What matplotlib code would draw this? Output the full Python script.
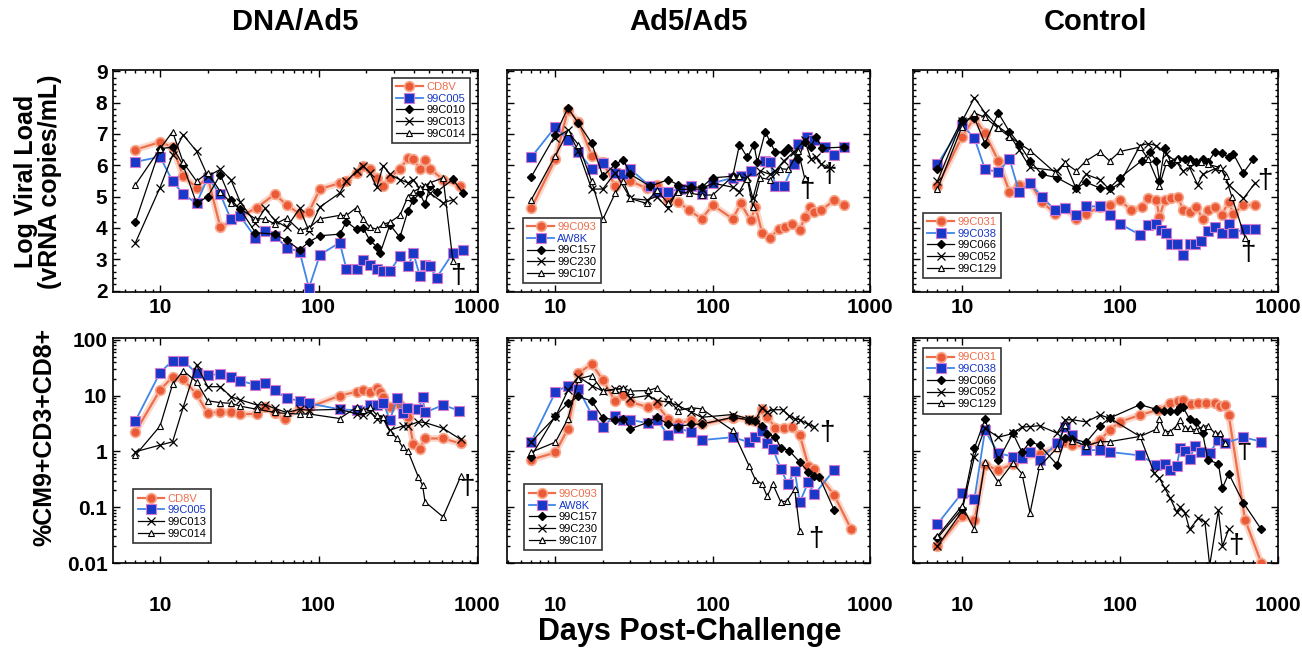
import matplotlib
matplotlib.use("Agg")
import matplotlib.pyplot as plt
from matplotlib.ticker import LogLocator, MultipleLocator, NullFormatter

plt.rcParams['font.family'] = ['Liberation Sans', 'DejaVu Sans']

# ---------------- data: top row (log viral load) ----------------
# DNA/Ad5
dv_cd8v_d = [7, 10, 12, 14, 17, 20, 24, 41, 53, 63, 76, 87, 102, 136, 150, 174, 191, 211, 233, 256, 282, 326, 367, 397, 436, 470, 505, 611, 780]
dv_cd8v_v = [6.5, 6.74, 6.58, 5.65, 5.29, 5.62, 4.02, 4.65, 5.08, 4.73, 4.45, 4.51, 5.24, 5.43, 5.49, 5.76, 5.98, 5.87, 5.60, 5.35, 5.60, 5.89, 6.22, 6.20, 5.89, 6.17, 5.89, 5.54, 5.33]
dv_005_d = [7, 10, 12, 14, 17, 20, 24, 28, 32, 40, 46, 53, 63, 76, 87, 102, 136, 150, 174, 191, 211, 233, 256, 282, 326, 367, 397, 436, 470, 505, 556, 705, 818]
dv_005_v = [6.11, 6.27, 5.49, 5.08, 4.78, 5.60, 5.08, 4.27, 4.38, 3.69, 3.91, 3.75, 3.37, 3.24, 2.08, 3.14, 3.53, 2.69, 2.69, 2.98, 2.82, 2.69, 2.63, 2.61, 3.09, 2.77, 3.20, 2.45, 2.82, 2.77, 2.41, 3.20, 3.31]
dv_010_d = [7, 10, 12, 14, 17, 20, 24, 28, 32, 40, 53, 63, 76, 87, 102, 136, 150, 174, 191, 211, 233, 245, 282, 326, 367, 397, 436, 470, 505, 556, 705, 818]
dv_010_v = [4.2, 6.53, 6.58, 6.0, 4.78, 5.0, 5.7, 4.9, 4.6, 3.85, 3.8, 3.6, 3.3, 3.55, 3.75, 3.8, 4.2, 3.95, 4.0, 3.6, 3.4, 3.2, 4.1, 3.7, 4.55, 4.9, 5.1, 4.75, 5.35, 5.15, 5.55, 5.1]
dv_013_d = [7, 10, 12, 14, 17, 20, 24, 28, 32, 40, 46, 53, 63, 76, 87, 102, 136, 150, 174, 191, 211, 233, 256, 282, 326, 367, 397, 436, 470, 505, 611, 705]
dv_013_v = [3.53, 5.29, 6.32, 6.97, 6.45, 5.65, 5.87, 5.54, 4.84, 4.15, 4.62, 4.24, 4.02, 4.62, 3.91, 4.67, 5.11, 5.49, 5.82, 5.98, 5.76, 5.30, 5.99, 5.71, 5.54, 5.44, 5.54, 5.24, 5.33, 5.11, 4.80, 4.90]
dv_014_d = [7, 10, 12, 14, 17, 20, 24, 28, 40, 46, 53, 63, 76, 87, 102, 136, 150, 174, 191, 211, 233, 256, 282, 326, 367, 397, 436, 470, 505, 611, 705]
dv_014_v = [5.38, 6.53, 7.07, 6.09, 5.49, 5.76, 5.16, 4.80, 4.29, 4.29, 4.12, 4.31, 3.92, 4.0, 4.29, 4.40, 4.40, 4.65, 4.29, 4.02, 3.96, 4.12, 4.18, 4.40, 5.0, 5.16, 5.27, 5.33, 5.44, 5.60, 2.93]

# Ad5/Ad5
av_093_d = [7, 10, 12, 14, 17, 20, 24, 27, 30, 38, 44, 52, 60, 71, 85, 100, 134, 151, 174, 187, 206, 232, 262, 289, 318, 358, 384, 413, 443, 489, 593, 685]
av_093_v = [4.62, 6.2, 7.78, 7.38, 6.31, 6.12, 5.33, 5.6, 5.49, 5.27, 5.38, 4.89, 4.84, 4.56, 4.29, 4.73, 4.29, 4.78, 4.24, 4.67, 3.85, 3.69, 3.96, 4.02, 4.13, 3.93, 4.34, 4.67, 4.51, 4.56, 4.89, 4.73]
av_aw8k_d = [7, 10, 12, 14, 17, 20, 24, 27, 30, 40, 44, 52, 62, 73, 85, 100, 134, 151, 174, 216, 232, 250, 283, 327, 350, 396, 443, 515, 593, 685]
av_aw8k_v = [6.25, 7.23, 6.8, 6.42, 5.89, 6.07, 5.76, 5.71, 5.87, 5.33, 5.16, 5.16, 5.24, 5.33, 5.09, 5.43, 5.6, 5.65, 5.82, 6.13, 6.09, 5.35, 5.33, 6.03, 6.69, 6.91, 6.8, 6.58, 6.33, 6.58]
av_157_d = [7, 10, 12, 14, 17, 20, 24, 27, 30, 40, 52, 60, 73, 85, 100, 134, 148, 166, 183, 192, 216, 232, 250, 283, 303, 350, 384, 421, 452, 498, 685]
av_157_v = [5.62, 6.98, 7.83, 7.34, 6.71, 5.65, 6.03, 6.18, 5.71, 5.33, 5.54, 5.38, 5.3, 5.3, 5.6, 5.65, 6.66, 6.25, 6.66, 6.09, 7.07, 6.74, 6.42, 6.42, 6.55, 6.2, 6.74, 6.58, 6.91, 6.55, 6.58]
av_230_d = [10, 12, 14, 17, 20, 24, 30, 38, 44, 52, 60, 71, 85, 100, 134, 148, 166, 180, 201, 232, 250, 283, 327, 384, 421, 452, 489, 560]
av_230_v = [6.87, 7.12, 6.44, 5.24, 5.24, 5.76, 4.94, 4.89, 5.0, 4.62, 5.22, 5.24, 5.24, 5.43, 5.3, 5.16, 5.63, 4.94, 5.82, 5.71, 5.82, 6.14, 6.42, 6.8, 6.2, 6.25, 6.04, 5.9]
av_107_d = [7, 10, 12, 14, 17, 20, 24, 27, 30, 38, 44, 52, 60, 71, 85, 100, 134, 148, 166, 180, 201, 232, 268, 303, 350, 384]
av_107_v = [4.89, 6.31, 7.07, 6.66, 5.49, 4.27, 5.11, 5.49, 4.94, 4.78, 5.22, 4.78, 5.16, 5.11, 5.05, 5.05, 5.65, 5.65, 5.57, 4.67, 5.6, 5.54, 5.89, 5.87, 6.44, 5.6]

# Control
cv_031_d = [7, 10, 12, 14, 17, 20, 23, 27, 32, 39, 45, 53, 61, 75, 86, 100, 118, 137, 151, 170, 178, 192, 212, 233, 251, 276, 304, 334, 360, 398, 440, 488, 523, 605, 716]
cv_031_v = [5.33, 6.91, 7.51, 7.02, 6.14, 5.16, 5.38, 5.43, 4.84, 4.45, 4.62, 4.29, 4.45, 4.67, 4.73, 4.89, 4.56, 4.67, 4.94, 4.89, 4.34, 4.89, 4.94, 5.0, 4.56, 4.51, 4.67, 4.29, 4.56, 4.67, 4.4, 4.84, 4.45, 4.73, 4.73]
cv_038_d = [7, 10, 12, 14, 17, 20, 23, 27, 32, 39, 45, 53, 61, 75, 86, 100, 134, 151, 170, 183, 197, 212, 229, 251, 276, 298, 327, 360, 398, 445, 488, 523, 620, 716]
cv_038_v = [6.03, 7.29, 6.87, 5.87, 5.79, 6.2, 5.16, 5.43, 5.0, 4.56, 4.62, 4.4, 4.69, 4.69, 4.4, 4.13, 3.78, 4.1, 4.13, 3.93, 3.85, 3.47, 3.47, 3.12, 3.47, 3.47, 3.58, 3.91, 4.02, 3.85, 4.13, 3.85, 3.96, 3.96]
cv_066_d = [7, 10, 12, 14, 17, 20, 23, 27, 32, 40, 53, 61, 75, 86, 100, 137, 155, 170, 178, 192, 212, 233, 257, 276, 304, 334, 360, 398, 440, 488, 523, 605, 700]
cv_066_v = [5.89, 7.45, 7.51, 6.69, 7.67, 7.07, 6.69, 6.14, 5.71, 5.6, 5.27, 5.46, 5.27, 5.27, 5.6, 6.14, 6.42, 6.14, 5.49, 6.55, 6.03, 6.2, 6.2, 6.2, 6.09, 6.2, 6.09, 6.42, 6.4, 6.25, 6.36, 5.76, 6.2]
cv_052_d = [7, 10, 12, 14, 17, 20, 23, 27, 40, 45, 53, 61, 75, 86, 100, 134, 151, 170, 197, 229, 251, 276, 310, 334, 398, 440, 488, 605, 716]
cv_052_v = [5.49, 7.4, 8.16, 7.67, 7.23, 6.98, 6.5, 5.93, 5.82, 6.09, 5.24, 5.71, 5.54, 5.22, 5.43, 6.63, 6.69, 6.63, 6.36, 6.09, 5.82, 5.93, 5.38, 5.71, 5.89, 5.87, 5.38, 4.94, 5.43]
cv_129_d = [7, 10, 12, 14, 17, 20, 27, 39, 45, 53, 61, 75, 86, 100, 134, 151, 178, 197, 229, 276, 327, 360, 430, 467, 510, 620]
cv_129_v = [5.24, 7.23, 7.67, 7.53, 7.18, 6.91, 6.47, 5.76, 6.07, 5.82, 6.14, 6.42, 6.14, 6.44, 6.58, 6.2, 5.35, 6.09, 6.2, 6.09, 6.09, 6.03, 5.93, 5.65, 5.0, 3.69]

# ---------------- data: bottom row (% CM9+ CD3+ CD8+) ----------------
dt_cd8v_d = [7, 10, 12, 14, 17, 20, 24, 28, 32, 41, 46, 53, 61, 76, 87, 136, 174, 191, 211, 233, 245, 256, 282, 326, 367, 397, 436, 470, 611, 790]
dt_cd8v_v = [2.25, 12.6, 21.9, 19.6, 10.7, 4.8, 5.2, 5.0, 4.7, 4.7, 6.2, 4.8, 3.76, 6.2, 6.2, 10, 11.8, 12.6, 11.8, 13.6, 11.8, 9.3, 6.3, 6.8, 4.2, 1.36, 1.13, 1.71, 1.71, 1.39]
dt_005_d = [7, 10, 12, 14, 17, 20, 24, 28, 32, 40, 46, 53, 63, 76, 87, 136, 174, 211, 233, 256, 282, 314, 340, 362, 426, 453, 470, 611, 770]
dt_005_v = [3.56, 25.9, 42.6, 42.6, 25.2, 23.5, 24.3, 21.9, 18.6, 15.6, 17.2, 12.6, 9.0, 8.1, 7.3, 5.7, 5.5, 6.8, 6.8, 7.5, 3.66, 9.0, 4.8, 5.9, 5.7, 9.3, 5.0, 6.8, 5.4]
dt_013_d = [7, 10, 12, 14, 17, 20, 24, 28, 32, 41, 46, 53, 63, 76, 87, 136, 174, 191, 211, 233, 256, 282, 340, 367, 426, 470, 611, 790]
dt_013_v = [0.99, 1.3, 1.49, 6.2, 35.6, 14.5, 14.5, 9.6, 8.4, 6.8, 6.9, 5.9, 5.0, 5.7, 5.5, 5.7, 4.7, 4.5, 5.2, 3.9, 3.76, 2.42, 2.85, 2.9, 3.4, 3.3, 2.6, 1.64]
dt_014_d = [7, 10, 12, 14, 17, 20, 24, 28, 32, 41, 53, 63, 76, 87, 136, 174, 191, 211, 233, 256, 282, 314, 340, 367, 426, 453, 470, 611, 790]
dt_014_v = [0.86, 2.85, 16, 28, 17.8, 8.1, 7.5, 7.3, 6.5, 5.7, 5.0, 4.8, 4.7, 4.7, 3.9, 6.2, 5.5, 6.2, 4.5, 4.2, 2.25, 1.71, 1.18, 1.01, 0.35, 0.25, 0.125, 0.067, 0.36]

at_093_d = [7, 10, 12, 14, 17, 20, 24, 27, 30, 39, 44, 52, 60, 73, 85, 134, 170, 187, 206, 222, 250, 283, 318, 358, 405, 443, 593, 760]
at_093_v = [0.71, 0.96, 2.55, 25.3, 37, 19.2, 8.0, 10.5, 7.7, 6.2, 7.0, 3.85, 3.2, 3.6, 3.05, 4.0, 3.7, 3.5, 5.8, 4.2, 2.66, 2.66, 2.7, 1.94, 0.56, 0.49, 0.163, 0.04]
at_aw8k_d = [7, 10, 12, 14, 17, 20, 24, 27, 30, 39, 44, 52, 60, 73, 85, 134, 170, 187, 206, 222, 241, 271, 300, 332, 358, 405, 443, 593]
at_aw8k_v = [1.47, 11.6, 15.2, 13.2, 4.6, 2.8, 4.4, 3.6, 3.7, 3.2, 3.7, 2.0, 2.66, 2.2, 1.6, 1.8, 1.47, 1.8, 2.3, 1.41, 1.12, 0.49, 0.26, 0.44, 0.124, 0.28, 0.17, 0.47]
at_157_d = [7, 10, 12, 14, 17, 20, 24, 27, 30, 39, 44, 52, 60, 73, 85, 134, 170, 187, 206, 222, 250, 271, 306, 358, 405, 443, 476, 593]
at_157_v = [0.81, 4.4, 7.3, 9.7, 8.0, 4.0, 3.7, 3.85, 2.55, 3.35, 4.1, 3.1, 2.8, 3.05, 3.1, 4.1, 3.7, 3.5, 2.9, 2.07, 1.8, 1.16, 1.04, 0.64, 0.43, 0.37, 0.35, 0.088]
at_230_d = [7, 10, 12, 14, 17, 20, 24, 27, 30, 39, 44, 52, 60, 73, 85, 134, 170, 187, 206, 222, 241, 278, 306, 332, 358, 405, 443]
at_230_v = [1.47, 4.2, 12.4, 22, 15.2, 12.1, 13.2, 13.2, 9.1, 10.1, 8.2, 7.7, 6.7, 5.1, 4.1, 4.6, 3.85, 3.7, 6.1, 5.1, 5.6, 5.6, 4.4, 3.85, 3.7, 3.05, 2.8]
at_107_d = [7, 10, 12, 14, 17, 20, 24, 27, 30, 39, 44, 52, 60, 73, 85, 134, 170, 187, 206, 222, 241, 271, 297, 332, 358]
at_107_v = [0.97, 1.47, 3.85, 20, 23, 12.1, 12.8, 13.8, 12.1, 12.4, 13.8, 9.1, 5.4, 6.1, 5.8, 2.38, 0.56, 0.31, 0.26, 0.156, 0.26, 0.124, 0.13, 0.21, 0.038]

ct_031_d = [7, 10, 12, 14, 17, 21, 24, 31, 40, 45, 50, 61, 75, 86, 100, 134, 175, 208, 233, 251, 282, 314, 350, 398, 428, 460, 488, 619, 785]
ct_031_v = [0.02, 0.069, 0.058, 0.58, 0.46, 0.6, 0.75, 0.9, 1.2, 1.5, 1.3, 1.2, 1.6, 2.44, 3.4, 4.5, 5.6, 7.3, 8.2, 8.4, 7.0, 7.5, 7.5, 7.3, 6.6, 6.9, 4.6, 0.06, 0.01]
ct_038_d = [7, 10, 12, 14, 17, 21, 24, 27, 31, 40, 45, 50, 61, 75, 86, 134, 170, 192, 208, 229, 240, 258, 276, 298, 327, 370, 420, 460, 603, 785]
ct_038_v = [0.05, 0.18, 0.14, 2.38, 0.93, 0.81, 0.76, 0.98, 0.7, 1.41, 2.73, 2.0, 1.07, 1.05, 0.98, 0.85, 0.58, 0.6, 0.47, 0.54, 1.15, 1.0, 0.72, 1.24, 0.98, 0.95, 1.6, 1.4, 1.8, 1.5]
ct_066_d = [7, 10, 12, 14, 17, 21, 24, 27, 31, 40, 45, 50, 61, 75, 86, 134, 170, 190, 208, 229, 240, 251, 276, 304, 334, 360, 420, 445, 488, 605, 785]
ct_066_v = [0.028, 0.093, 1.15, 3.8, 0.69, 2.13, 0.97, 1.5, 1.3, 0.58, 1.73, 1.7, 1.45, 2.9, 3.96, 6.9, 5.7, 5.4, 5.4, 5.4, 6.3, 6.2, 3.8, 3.4, 2.13, 0.71, 0.6, 0.22, 0.4, 0.12, 0.04]
ct_052_d = [7, 10, 12, 14, 17, 21, 24, 27, 31, 40, 45, 50, 61, 75, 86, 134, 165, 178, 192, 208, 229, 240, 258, 276, 314, 345, 370, 420, 445, 488]
ct_052_v = [0.02, 0.084, 0.81, 2.6, 1.8, 2.1, 2.73, 2.8, 2.9, 2.13, 3.7, 3.7, 3.4, 4.5, 3.96, 1.86, 0.41, 0.33, 0.22, 0.146, 0.081, 0.1, 0.08, 0.04, 0.064, 0.055, 0.009, 0.088, 0.02, 0.04]
ct_129_d = [7, 10, 12, 14, 17, 21, 24, 27, 31, 40, 45, 50, 61, 75, 86, 134, 170, 178, 192, 208, 229, 240, 258, 276, 304, 334, 360, 398, 428, 460]
ct_129_v = [0.03, 0.106, 0.04, 0.66, 0.28, 0.62, 0.4, 0.079, 0.54, 1.15, 3.0, 1.57, 1.26, 1.5, 1.5, 1.86, 2.5, 3.8, 2.28, 2.28, 2.9, 3.6, 2.6, 2.6, 2.4, 2.8, 2.9, 2.13, 2.13, 1.41]

# dagger (death) markers: (day, value)
dv_dagger = [(760, 2.45)]
av_dagger = [(395, 5.2), (545, 5.7)]
cv_dagger = [(830, 5.5), (650, 3.2)]
dt_dagger = [(860, 0.23)]
at_dagger = [(530, 2.1), (455, 0.027)]
ct_dagger = [(605, 1.0), (545, 0.02)]

col_titles = ["DNA/Ad5", "Ad5/Ad5", "Control"]

RED = '#ef6f4c'
BLUE = '#1838c8'


def draw(ax, d, v, kind, label):
    if kind == 'red':
        ax.plot(d, v, color='#f9b9a3', lw=5, alpha=0.55, solid_capstyle='round', zorder=2)
        h, = ax.plot(d, v, color=RED, lw=1.6, marker='o', ms=7, mfc='#ea5a36',
                     mec='#f7a88e', mew=1.2, label=label, zorder=3)
    elif kind == 'blue':
        h, = ax.plot(d, v, color='#3f86e8', lw=1.3, marker='s', ms=6.5, mfc=BLUE,
                     mec='#d67ad0', mew=0.8, label=label, zorder=4)
    elif kind == 'dia':
        h, = ax.plot(d, v, color='k', lw=0.9, marker='D', ms=3.8, mfc='k', mec='k', label=label, zorder=5)
    elif kind == 'x':
        h, = ax.plot(d, v, color='k', lw=0.9, marker='x', ms=6, mew=0.9, label=label, zorder=5)
    else:
        h, = ax.plot(d, v, color='k', lw=0.9, marker='^', ms=5, mfc='white', mec='k',
                     mew=0.8, label=label, zorder=5)
    return h


panels = [
    dict(pos=[0.0868, 0.552, 0.2803, 0.341], xlim=(5.05, 1014), row=0,
         series=[(dv_cd8v_d, dv_cd8v_v, 'red', 'CD8V'), (dv_005_d, dv_005_v, 'blue', '99C005'),
                 (dv_010_d, dv_010_v, 'dia', '99C010'), (dv_013_d, dv_013_v, 'x', '99C013'),
                 (dv_014_d, dv_014_v, 'tri', '99C014')],
         dagger=dv_dagger, leg=('upper right', (0.977, 0.965))),
    dict(pos=[0.3894, 0.552, 0.2788, 0.341], xlim=(4.92, 944), row=0,
         series=[(av_093_d, av_093_v, 'red', '99C093'), (av_aw8k_d, av_aw8k_v, 'blue', 'AW8K'),
                 (av_157_d, av_157_v, 'dia', '99C157'), (av_230_d, av_230_v, 'x', '99C230'),
                 (av_107_d, av_107_v, 'tri', '99C107')],
         dagger=av_dagger, leg=('lower left', (0.044, 0.04))),
    dict(pos=[0.7012, 0.552, 0.2803, 0.341], xlim=(4.9, 1000), row=0,
         series=[(cv_031_d, cv_031_v, 'red', '99C031'), (cv_038_d, cv_038_v, 'blue', '99C038'),
                 (cv_066_d, cv_066_v, 'dia', '99C066'), (cv_052_d, cv_052_v, 'x', '99C052'),
                 (cv_129_d, cv_129_v, 'tri', '99C129')],
         dagger=cv_dagger, leg=('lower left', (0.027, 0.063))),
    dict(pos=[0.0868, 0.1365, 0.2803, 0.345], xlim=(5.05, 1014), row=1,
         series=[(dt_cd8v_d, dt_cd8v_v, 'red', 'CD8V'), (dt_005_d, dt_005_v, 'blue', '99C005'),
                 (dt_013_d, dt_013_v, 'x', '99C013'), (dt_014_d, dt_014_v, 'tri', '99C014')],
         dagger=dt_dagger, leg=('lower left', (0.055, 0.089))),
    dict(pos=[0.3894, 0.1365, 0.2788, 0.345], xlim=(4.92, 944), row=1,
         series=[(at_093_d, at_093_v, 'red', '99C093'), (at_aw8k_d, at_aw8k_v, 'blue', 'AW8K'),
                 (at_157_d, at_157_v, 'dia', '99C157'), (at_230_d, at_230_v, 'x', '99C230'),
                 (at_107_d, at_107_v, 'tri', '99C107')],
         dagger=at_dagger, leg=('lower left', (0.047, 0.058))),
    dict(pos=[0.7012, 0.1365, 0.2803, 0.345], xlim=(4.9, 1000), row=1,
         series=[(ct_031_d, ct_031_v, 'red', '99C031'), (ct_038_d, ct_038_v, 'blue', '99C038'),
                 (ct_066_d, ct_066_v, 'dia', '99C066'), (ct_052_d, ct_052_v, 'x', '99C052'),
                 (ct_129_d, ct_129_v, 'tri', '99C129')],
         dagger=ct_dagger, leg=('upper left', (0.027, 0.956))),
]

fig = plt.figure(figsize=(13.02, 6.52), dpi=100)

for i, p in enumerate(panels):
    ax = fig.add_axes(p['pos'])
    handles = [draw(ax, d, v, k, lab) for d, v, k, lab in p['series']]
    ax.set_xscale('log')
    ax.set_xlim(*p['xlim'])
    ax.set_xticks([10, 100, 1000], ['10', '100', '1000'], fontsize=15, fontweight='bold')
    ax.xaxis.set_minor_locator(LogLocator(base=10, subs=range(2, 10)))
    ax.xaxis.set_minor_formatter(NullFormatter())
    if p['row'] == 0:
        ax.set_ylim(1.95, 9.05)
        ax.yaxis.set_minor_locator(MultipleLocator(0.2))
        if i == 0:
            ax.set_yticks(range(2, 10), [str(t) for t in range(2, 10)], fontsize=15, fontweight='bold')
        else:
            ax.set_yticks(range(2, 10), [''] * 8)
    else:
        ax.set_yscale('log')
        ax.set_ylim(0.01, 108)
        ax.yaxis.set_minor_locator(LogLocator(base=10, subs=range(2, 10)))
        ax.yaxis.set_minor_formatter(NullFormatter())
        yt = [0.01, 0.1, 1, 10, 100]
        if i == 3:
            ax.set_yticks(yt, ['0.01', '0.1', '1', '10', '100'], fontsize=15, fontweight='bold')
        else:
            ax.set_yticks(yt, [''] * 5)
    ax.tick_params(which='both', direction='in', top=True, right=True, width=1)
    ax.tick_params(which='major', length=5, pad=4)
    ax.tick_params(which='minor', length=2.5)
    if p['row'] == 1:
        ax.tick_params(axis='x', which='major', pad=24)
    for s in ax.spines.values():
        s.set_linewidth(1.2)
    for dx, dy in p['dagger']:
        ax.text(dx, dy, '\u2020', fontsize=20, ha='center', va='center', color='k')
    loc, anchor = p['leg']
    leg = ax.legend(handles=handles, loc=loc, bbox_to_anchor=anchor, fontsize=8,
                    frameon=True, fancybox=False, edgecolor='#333333', framealpha=1,
                    handlelength=2.4, labelspacing=0.15, borderpad=0.4,
                    handletextpad=0.3, borderaxespad=0)
    leg.get_frame().set_linewidth(1.2)
    for txt, (_, _, kind, _) in zip(leg.get_texts(), p['series']):
        if kind == 'red':
            txt.set_color(RED)
        elif kind == 'blue':
            txt.set_color(BLUE)

for j, t in enumerate(col_titles):
    pos = panels[j]['pos']
    fig.text(pos[0] + pos[2] / 2, 0.966, t, ha='center', va='center', fontsize=21, fontweight='bold')

fig.text(0.029, 0.722, 'Log Viral Load\n(vRNA copies/mL)', rotation=90, ha='center', va='center',
         fontsize=18, fontweight='bold', linespacing=1.0)
fig.text(0.034, 0.33, '%CM9+CD3+CD8+', rotation=90, ha='center', va='center',
         fontsize=18, fontweight='bold')
fig.text(0.53, 0.03, 'Days Post-Challenge', ha='center', va='center', fontsize=22, fontweight='bold')

fig.savefig('out.png', dpi=100)
